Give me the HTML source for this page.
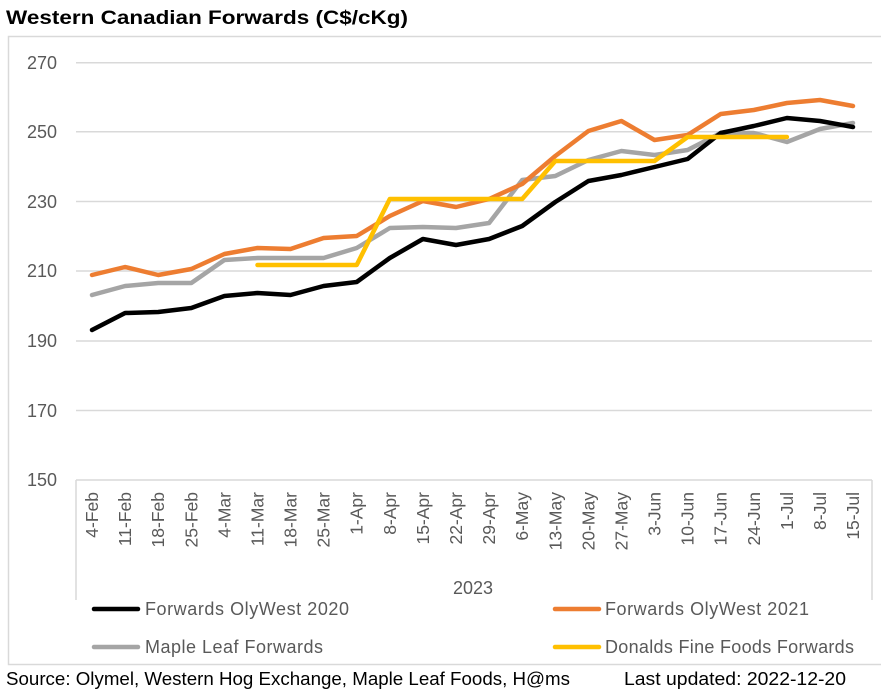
<!DOCTYPE html>
<html><head><meta charset="utf-8"><style>
html,body{margin:0;padding:0;background:#fff;}
svg{display:block;font-family:"Liberation Sans",Calibri,sans-serif;}
</style></head><body>
<svg width="881" height="693" viewBox="0 0 881 693" xmlns="http://www.w3.org/2000/svg">
<text x="6" y="24" font-size="19" font-weight="bold" fill="#000" textLength="402" lengthAdjust="spacingAndGlyphs">Western Canadian Forwards (C$/cKg)</text>
<rect x="8.5" y="36.5" width="880" height="628" fill="none" stroke="#d9d9d9" stroke-width="1.5"/>
<g stroke="#d9d9d9" stroke-width="1.5">
<line x1="76" y1="62.7" x2="872" y2="62.7"/>
<line x1="76" y1="131.7" x2="872" y2="131.7"/>
<line x1="76" y1="201.5" x2="872" y2="201.5"/>
<line x1="76" y1="271" x2="872" y2="271"/>
<line x1="76" y1="341" x2="872" y2="341"/>
<line x1="76" y1="410.5" x2="872" y2="410.5"/>
<line x1="76" y1="480" x2="872" y2="480"/>
<line x1="76" y1="480" x2="76" y2="600"/>
<line x1="872" y1="480" x2="872" y2="600"/>
</g>
<g font-size="18" fill="#595959" text-anchor="end">
<text x="57" y="69">270</text><text x="57" y="138">250</text><text x="57" y="208">230</text>
<text x="57" y="277">210</text><text x="57" y="347">190</text><text x="57" y="417">170</text><text x="57" y="486">150</text>
</g>
<g font-size="17.5" fill="#595959" text-anchor="end">
<text transform="translate(98,492) rotate(-90)">4-Feb</text>
<text transform="translate(131.1,492) rotate(-90)">11-Feb</text>
<text transform="translate(164.2,492) rotate(-90)">18-Feb</text>
<text transform="translate(197.3,492) rotate(-90)">25-Feb</text>
<text transform="translate(230.4,492) rotate(-90)">4-Mar</text>
<text transform="translate(263.5,492) rotate(-90)">11-Mar</text>
<text transform="translate(296.5,492) rotate(-90)">18-Mar</text>
<text transform="translate(329.6,492) rotate(-90)">25-Mar</text>
<text transform="translate(362.7,492) rotate(-90)">1-Apr</text>
<text transform="translate(395.8,492) rotate(-90)">8-Apr</text>
<text transform="translate(428.9,492) rotate(-90)">15-Apr</text>
<text transform="translate(462,492) rotate(-90)">22-Apr</text>
<text transform="translate(495.1,492) rotate(-90)">29-Apr</text>
<text transform="translate(528.2,492) rotate(-90)">6-May</text>
<text transform="translate(561.3,492) rotate(-90)">13-May</text>
<text transform="translate(594.4,492) rotate(-90)">20-May</text>
<text transform="translate(627.4,492) rotate(-90)">27-May</text>
<text transform="translate(660.5,492) rotate(-90)">3-Jun</text>
<text transform="translate(693.6,492) rotate(-90)">10-Jun</text>
<text transform="translate(726.7,492) rotate(-90)">17-Jun</text>
<text transform="translate(759.8,492) rotate(-90)">24-Jun</text>
<text transform="translate(792.9,492) rotate(-90)">1-Jul</text>
<text transform="translate(826,492) rotate(-90)">8-Jul</text>
<text transform="translate(859,492) rotate(-90)">15-Jul</text>
</g>
<text x="473" y="594" font-size="18" fill="#595959" text-anchor="middle">2023</text>
<g fill="none" stroke-width="4.5" stroke-linejoin="round" stroke-linecap="round">
<polyline stroke="#a5a5a5" points="92,295 125.1,286 158.2,283 191.3,283 224.4,260 257.5,258 290.5,258 323.6,258 356.7,248 389.8,228 422.9,227 456,228 489.1,223 522.2,180 555.3,176 588.4,160 621.4,151 654.5,155 687.6,150 720.7,133 753.8,133 786.9,142 820,129 853,123"/>
<polyline stroke="#ed7d31" points="92,275 125.1,267 158.2,275 191.3,269 224.4,254 257.5,248 290.5,249 323.6,238 356.7,236 389.8,216 422.9,201 456,207 489.1,199 522.2,184 555.3,156 588.4,131 621.4,121 654.5,140 687.6,135 720.7,114 753.8,110 786.9,103 820,100 853,106"/>
<polyline stroke="#000" points="92,330 125.1,313 158.2,312 191.3,308 224.4,296 257.5,293 290.5,295 323.6,286 356.7,282 389.8,258 422.9,239 456,245 489.1,239 522.2,226 555.3,202 588.4,181 621.4,175 654.5,167 687.6,159 720.7,133 753.8,126 786.9,118 820,121 853,127"/>
<polyline stroke="#ffc000" points="257.5,265 290.5,265 323.6,265 356.7,265 389.8,199 422.9,199 456,199 489.1,199 522.2,199 555.3,161 588.4,161 621.4,161 654.5,161 687.6,137 720.7,137 753.8,137 786.9,137"/>
</g>
<g stroke-width="4.5" stroke-linecap="round">
<line x1="94" y1="609" x2="138" y2="609" stroke="#000"/>
<line x1="94" y1="647" x2="138" y2="647" stroke="#a5a5a5"/>
<line x1="555" y1="609" x2="599" y2="609" stroke="#ed7d31"/>
<line x1="555" y1="647" x2="599" y2="647" stroke="#ffc000"/>
</g>
<g font-size="18" fill="#595959" lengthAdjust="spacingAndGlyphs">
<text x="145" y="615" textLength="204">Forwards OlyWest 2020</text>
<text x="145" y="653" textLength="178">Maple Leaf Forwards</text>
<text x="605" y="615" textLength="204">Forwards OlyWest 2021</text>
<text x="605" y="653" textLength="249">Donalds Fine Foods Forwards</text>
</g>
<text x="6" y="685" font-size="18" fill="#000" textLength="564" lengthAdjust="spacingAndGlyphs">Source: Olymel, Western Hog Exchange, Maple Leaf Foods, H@ms</text>
<text x="624" y="685" font-size="18" fill="#000" textLength="222" lengthAdjust="spacingAndGlyphs">Last updated:  2022-12-20</text>
</svg>
</body></html>
